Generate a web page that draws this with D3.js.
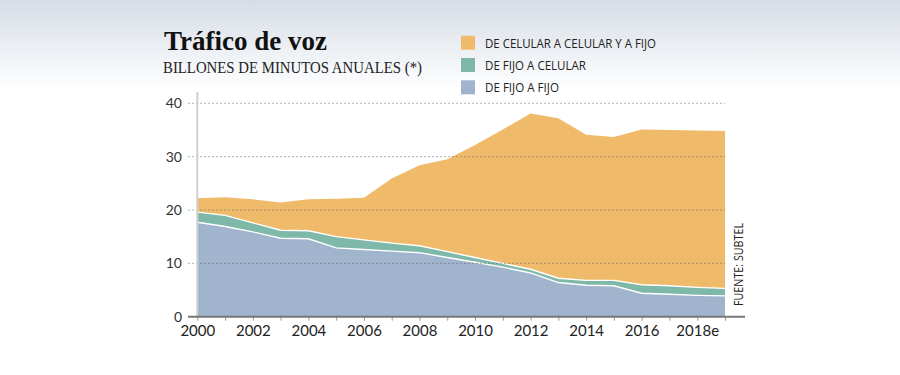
<!DOCTYPE html>
<html>
<head>
<meta charset="utf-8">
<script src="https://cdn.jsdelivr.net/npm/d3@7"></script>
<style>
  body { margin: 0; background: #fff; }
  svg { display: block; }
</style>
</head>
<body>
<div id="chart"></div>
<script>
// data (billones de minutos)
let years = [2000, 2001, 2002, 2003, 2004, 2005, 2006, 2007, 2008, 2009,
             2010, 2011, 2012, 2013, 2014, 2015, 2016, 2017, 2018, 2019];
let fijoFijo = [17.7, 16.9, 15.9, 14.7, 14.6, 12.9, 12.6, 12.3, 12.0, 11.1,
                10.2, 9.3, 8.2, 6.4, 5.9, 5.8, 4.4, 4.2, 4.0, 3.9];
let fijoCelular = [1.9, 2.1, 1.7, 1.5, 1.5, 2.1, 1.8, 1.5, 1.3, 1.1,
                   0.9, 0.7, 0.7, 0.8, 0.9, 1.0, 1.6, 1.6, 1.5, 1.4];
let celular = [2.6, 3.4, 4.4, 5.2, 5.9, 7.1, 7.9, 12.1, 15.1, 17.3,
               21.1, 25.1, 29.2, 30.0, 27.3, 26.9, 29.1, 29.2, 29.4, 29.5];
let yTicks = [0, 10, 20, 30, 40];
let seriesKeys = ["fijoFijo", "fijoCelular", "celular"];
let legendLabels = ["DE CELULAR A CELULAR Y A FIJO", "DE FIJO A CELULAR", "DE FIJO A FIJO"];

let svgWidth = 900;
let svgHeight = 375;
let colors = { fijoFijo: "#a1b4cd", fijoCelular: "#7eb8a8", celular: "#efbb6a" };

let svg = d3.select("#chart")
    .append("svg")
    .attr("width", svgWidth)
    .attr("height", svgHeight);

// soft grey band at the top
let defs = svg.append("defs");
let grad = defs.append("linearGradient")
    .attr("id", "topfade")
    .attr("x1", 0).attr("y1", 0).attr("x2", 0).attr("y2", 1);
grad.append("stop").attr("offset", "0%").attr("stop-color", "#d6dde6");
grad.append("stop").attr("offset", "100%").attr("stop-color", "#ffffff");
svg.append("rect").attr("width", svgWidth).attr("height", svgHeight).attr("fill", "#fff");
svg.append("rect").attr("width", svgWidth).attr("height", 90).attr("fill", "url(#topfade)");

let x = d3.scaleLinear().domain([2000, 2019]).range([197.3, 725]);
let y = d3.scaleLinear().domain([0, 40]).range([316.7, 103.3]);

let table = years.map((yr, i) => ({
    year: yr,
    fijoFijo: fijoFijo[i],
    fijoCelular: fijoCelular[i],
    celular: celular[i]
}));

let stacked = d3.stack().keys(seriesKeys)(table);

let area = d3.area()
    .x(d => x(d.data.year))
    .y0(d => y(d[0]))
    .y1(d => y(d[1]));

svg.append("g")
    .selectAll("path")
    .data(stacked)
    .enter()
    .append("path")
    .attr("d", area)
    .attr("fill", d => colors[d.key]);

// white seams on top of the two lower layers
let topLine = d3.line()
    .x(d => x(d.data.year))
    .y(d => y(d[1]));

svg.append("g")
    .selectAll("path")
    .data(stacked.slice(0, 2))
    .enter()
    .append("path")
    .attr("d", topLine)
    .attr("fill", "none")
    .attr("stroke", "#fff")
    .attr("stroke-width", 1.4);

// dotted gridlines over the areas
svg.append("g")
    .selectAll("line")
    .data(yTicks.filter(d => d > 0))
    .enter()
    .append("line")
    .attr("x1", 188)
    .attr("x2", x(2019))
    .attr("y1", d => y(d))
    .attr("y2", d => y(d))
    .attr("stroke", "#555")
    .attr("stroke-opacity", 0.45)
    .attr("stroke-dasharray", "2,2");

// vertical y axis line
svg.append("line")
    .attr("x1", x(2000)).attr("x2", x(2000))
    .attr("y1", 92).attr("y2", y(0))
    .attr("stroke", "#cfcfcf")
    .attr("stroke-width", 2);

// y labels
let leftAxis = d3.axisLeft(y).tickValues(yTicks).tickSize(0).tickPadding(0);
let yAxisG = svg.append("g")
    .attr("transform", "translate(182,0)")
    .call(leftAxis);
yAxisG.select(".domain").remove();
yAxisG.selectAll("text")
    .attr("font-family", "Lato, 'Open Sans', sans-serif")
    .attr("font-size", "14px")
    .attr("fill", "#333");

// x axis
let bottomAxis = d3.axisBottom(x)
    .tickValues(years)
    .tickSize(4)
    .tickPadding(5)
    .tickFormat(d => d % 2 === 0 ? (d === 2018 ? "2018e" : d) : "");
let xAxisG = svg.append("g")
    .attr("transform", `translate(0, ${y(0)})`)
    .call(bottomAxis);
xAxisG.select(".domain").remove();
xAxisG.selectAll(".tick line").attr("stroke", "#999");
xAxisG.selectAll("text")
    .attr("font-family", "Lato, 'Open Sans', sans-serif")
    .attr("font-size", "15px")
    .attr("fill", "#222");
svg.append("line")
    .attr("x1", 188).attr("x2", 745)
    .attr("y1", y(0)).attr("y2", y(0))
    .attr("stroke", "#777")
    .attr("stroke-width", 2);

// title block
svg.append("text")
    .attr("x", 164)
    .attr("y", 49.5)
    .attr("font-family", "'Liberation Serif', 'DejaVu Serif', serif")
    .attr("font-weight", "bold")
    .attr("font-size", "27px")
    .attr("fill", "#111")
    .text("Tráfico de voz");

svg.append("text")
    .attr("x", 163)
    .attr("y", 72.5)
    .attr("font-family", "'Liberation Serif', 'DejaVu Serif', serif")
    .attr("font-size", "17px")
    .attr("textLength", 259)
    .attr("lengthAdjust", "spacingAndGlyphs")
    .attr("fill", "#222")
    .text("BILLONES DE MINUTOS ANUALES (*)");

// legend
let legendKeys = ["celular", "fijoCelular", "fijoFijo"];
let legendWidths = [171, 101, 74];
let legend = svg.append("g")
    .selectAll("g")
    .data(legendKeys)
    .enter()
    .append("g")
    .attr("transform", (d, i) => `translate(461, ${42.7 + i * 22.3})`);
legend.append("rect")
    .attr("x", 0).attr("y", -7)
    .attr("width", 14).attr("height", 14)
    .attr("fill", d => colors[d]);
legend.append("text")
    .attr("x", 24)
    .attr("y", 4.8)
    .attr("font-family", "'Open Sans', sans-serif")
    .attr("font-size", "13px")
    .attr("textLength", (d, i) => legendWidths[i])
    .attr("lengthAdjust", "spacingAndGlyphs")
    .attr("fill", "#222")
    .text((d, i) => legendLabels[i]);

// source
svg.append("text")
    .attr("transform", "translate(742.5, 306) rotate(-90)")
    .attr("font-family", "'Open Sans', sans-serif")
    .attr("font-size", "12px")
    .attr("textLength", 83)
    .attr("lengthAdjust", "spacingAndGlyphs")
    .attr("fill", "#222")
    .text("FUENTE: SUBTEL");
</script>
</body>
</html>
